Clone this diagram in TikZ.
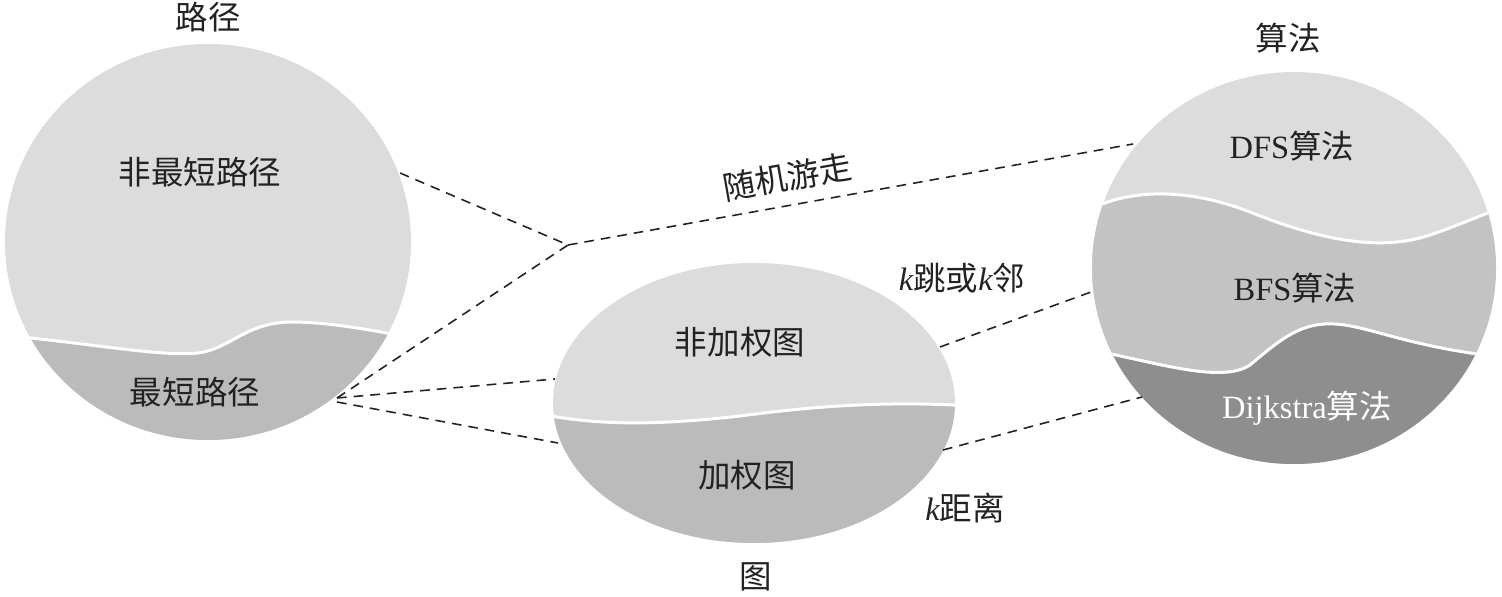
\documentclass[tikz,border=0pt]{standalone}
\usepackage{fontspec}
\setmainfont{Liberation Serif}
\newfontfamily\cjk{Noto Sans CJK SC}
\usepackage{tikz}
\usetikzlibrary{positioning}
\definecolor{lightgr}{RGB}{220,220,220}
\definecolor{midgr}{RGB}{195,195,195}
\definecolor{lowgr}{RGB}{188,187,188}
\definecolor{darkgr}{RGB}{143,142,143}
\definecolor{inkgr}{RGB}{34,34,34}

\begin{document}
\begin{tikzpicture}[x=0.02cm,y=-0.02cm,
	lbl/.style={font=\fontsize{18.5}{20}\selectfont\cjk,text=inkgr,inner sep=0pt},
	link/.style={draw=inkgr,line width=0.9pt,dash pattern=on 5.5pt off 4pt},
	seam/.style={draw=white,line width=1.7pt}]
				\useasboundingbox (0,0) rectangle (1502,597);
				% left circle: paths
				\begin{scope}
					\clip (208,242) ellipse [x radius=203, y radius=198];
					\fill[lightgr] (0,30) rectangle (420,450);
					\filldraw[seam,fill=lowgr] (0,335) .. controls (90,343) and (160,357) .. (198,353)
						.. controls (230,349) and (245,323) .. (290,322)
						.. controls (330,322) and (370,330) .. (420,339) -- (420,460) -- (0,460) -- cycle;
				\end{scope}
				% middle ellipse: graphs
				\begin{scope}
					\clip (754,403) ellipse [x radius=201, y radius=140];
					\fill[lightgr] (540,250) rectangle (970,560);
					\filldraw[seam,fill=lowgr] (540,414) .. controls (600,426) and (660,425) .. (740,416)
						.. controls (800,408) and (880,400) .. (970,406) -- (970,560) -- (540,560) -- cycle;
				\end{scope}
				% right circle: algorithms
				\begin{scope}
					\clip (1294,268) ellipse [x radius=202, y radius=196];
					\fill[lightgr] (1080,60) rectangle (1510,480);
					\filldraw[seam,fill=midgr] (1080,215) .. controls (1120,190) and (1180,185) .. (1250,212)
						.. controls (1320,240) and (1380,252) .. (1430,235)
						.. controls (1460,225) and (1480,215) .. (1510,205) -- (1510,480) -- (1080,480) -- cycle;
					\filldraw[seam,fill=darkgr] (1080,348) .. controls (1150,360) and (1220,385) .. (1250,365)
						.. controls (1280,340) and (1300,322) .. (1335,324)
						.. controls (1370,326) and (1410,348) .. (1510,358) -- (1510,480) -- (1080,480) -- cycle;
				\end{scope}
				% region labels
				\node[lbl] (path) at (208,17) {路径};
				\node[lbl] (nonshort) at (200,172) {非最短路径};
				\node[lbl] (short) at (195,392) {最短路径};
				\node[lbl] (graph) at (756,577) {图};
				\node[lbl] (unw) at (740,342) {非加权图};
				\node[lbl] (wgt) at (747,475) {加权图};
				\node[lbl] (alg) at (1288,38) {算法};
				\node[lbl] (dfs) at (1292,146) {\rmfamily DFS\cjk 算法};
				\node[lbl] (bfs) at (1295,288) {\rmfamily BFS\cjk 算法};
				\node[lbl,text=white] (dij) at (1307,408) {\rmfamily Dijkstra\cjk 算法};
				% link ends
				\coordinate (pathtop) at (400,173);
				\coordinate (pathlow) at (337,398);
				\coordinate (pathlow2) at (337,402);
				\coordinate (walk) at (568,245);
				\coordinate (algtop) at (1133,144);
				\coordinate (unwL) at (555,379);
				\coordinate (wL) at (558,443);
				\coordinate (unwR) at (940,347);
				\coordinate (bfsL) at (1091,292);
				\coordinate (wR) at (943,450);
				\coordinate (dijL) at (1142,397);
				% dashed links
				\foreach \a/\b in {pathtop/walk,walk/algtop,pathlow/walk,pathlow/unwL,pathlow2/wL,unwR/bfsL,wR/dijL}{
					\draw[link] (\a) -- (\b);
				}
				% link labels
				\node[lbl,rotate=10] (walklbl) at (787,177) {随机游走};
				\node[lbl] (hoplbl) at (962,278) {\rmfamily\itshape k\cjk 跳或\rmfamily\itshape k\cjk 邻};
				\node[lbl] (distlbl) at (965,508) {\rmfamily\itshape k\cjk 距离};
			\end{tikzpicture}
\end{document}
